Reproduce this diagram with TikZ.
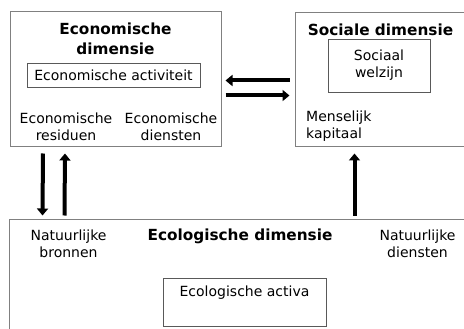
\documentclass[tikz,border=0pt]{standalone}
\usepackage{fontspec}
\setmainfont{DejaVu Sans}
\usetikzlibrary{arrows.meta}
\begin{document}
\begin{tikzpicture}[x=1pt,y=-1pt,
  txt/.style={font=\fontsize{14}{17}\selectfont, inner sep=0pt, align=center},
  ttl/.style={font=\fontsize{15.3}{20}\selectfont\bfseries, inner sep=0pt, align=center},
  outer/.style={draw=black!50, line width=1pt, inner sep=0pt},
  inner/.style={draw=black!65, line width=0.8pt, inner sep=0pt, align=center, font=\fontsize{14}{17}\selectfont},
  arr/.style={line width=4pt, -{Triangle[width=11pt,length=7pt]}}]
\useasboundingbox (0,0) rectangle (464,329);
\clip (0,0) rectangle (464,329);
% boxes
\node[outer, minimum width=211pt, minimum height=135pt] (econ) at (115.5,79.5) {};
\node[outer, minimum width=175pt, minimum height=134pt] (social) at (382.5,80) {};
\node[outer, minimum width=480pt, minimum height=130pt] (eco) at (249.5,284) {};
% economic
\node[ttl] (econtitle) at (115.5,39) {Economische\\dimensie};
\node[inner, minimum width=173pt, minimum height=24pt] (act) at (113.5,75) {Economische activiteit};
\node[txt] (resid) at (66,127) {Economische\\residuen};
\node[txt] (dienst) at (171,127) {Economische\\diensten};
% social
\node[ttl] (soctitle) at (380.5,29.5) {Sociale dimensie};
\node[inner, minimum width=102pt, minimum height=53pt] (welz) at (379,65.5) {Sociaal\\welzijn};
\node[txt, align=left, anchor=west] (kap) at (306,126) {Menselijk\\kapitaal};
% ecological
\node[txt] (bron) at (68.5,244) {Natuurlijke\\bronnen};
\node[ttl] (ecotitle) at (240,236) {Ecologische dimensie};
\node[txt] (ndienst) at (417.5,244) {Natuurlijke\\diensten};
\node[inner, minimum width=163pt, minimum height=48pt] (activa) at (244.5,302) {Ecologische activa\\ \strut};
% arrows
\draw[arr, shorten <=5pt, shorten >=4pt] ([yshift=-68pt]social.north west) -- ([yshift=-69pt]econ.north east);
\draw[arr, shorten <=4pt, shorten >=5pt] ([yshift=-84pt]econ.north east) -- ([yshift=-83pt]social.north west);
\draw[arr, shorten <=6pt, shorten >=3pt] ([xshift=33.5pt]econ.south west) -- ([xshift=33.5pt]eco.north west);
\draw[arr, shorten <=3pt, shorten >=6pt] ([xshift=55.5pt]eco.north west) -- ([xshift=55.5pt]econ.south west);
\draw[arr, shorten <=3pt, shorten >=6pt] ([xshift=345.5pt]eco.north west) -- ([xshift=60pt]social.south west);
\end{tikzpicture}
\end{document}
